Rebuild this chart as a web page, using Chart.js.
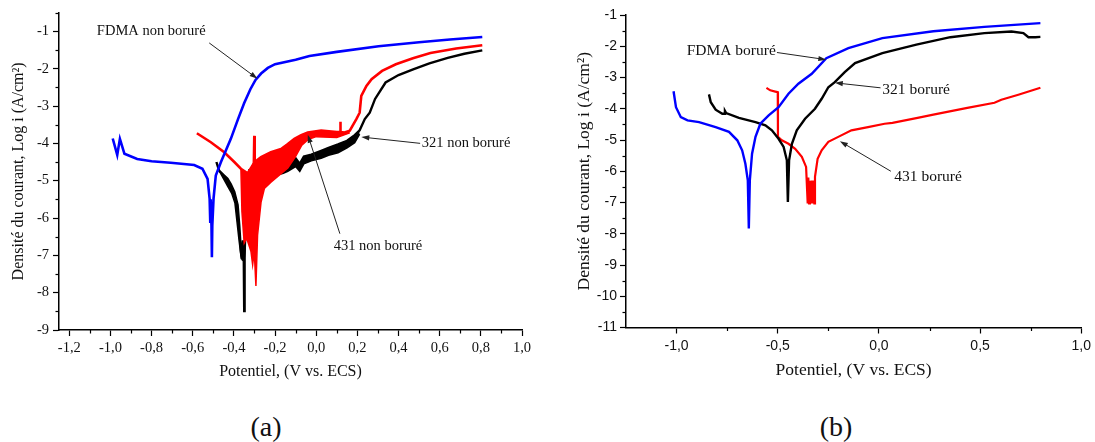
<!DOCTYPE html>
<html><head><meta charset="utf-8">
<script src="https://cdn.jsdelivr.net/npm/chart.js@4.4.0/dist/chart.umd.min.js"></script>
<style>
html,body{margin:0;padding:0;background:#fff;width:1095px;height:442px;overflow:hidden;}
#ca{position:absolute;left:0;top:0;}
#cb{position:absolute;left:548px;top:0;}
.cap{position:absolute;top:413px;font-family:"Liberation Serif","Times New Roman",serif;font-size:28px;color:#111;transform:translateX(-50%);line-height:1;}
</style></head><body>
<canvas id="ca" width="545" height="385"></canvas>
<canvas id="cb" width="547" height="385"></canvas>
<div class="cap" style="left:266px">(a)</div>
<div class="cap" style="left:836px">(b)</div>
<script>
// ---------- Panel (a) : non boruré ----------
const fdmaA_x = [-0.989,-0.967,-0.954,-0.932,-0.870,-0.800,-0.707,-0.593,-0.553,-0.528,-0.518,-0.515,-0.513,-0.509,-0.507,-0.505,-0.499,-0.488,-0.463,-0.415,-0.380,-0.350,-0.320,-0.295,-0.268,-0.235,-0.200,-0.100,-0.033,0.100,0.303,0.500,0.650,0.807];
const fdmaA_y = [-3.87,-4.31,-3.88,-4.28,-4.42,-4.48,-4.52,-4.58,-4.68,-4.95,-5.48,-6.10,-5.50,-6.20,-7.05,-6.20,-5.48,-4.86,-4.50,-3.88,-3.35,-2.92,-2.55,-2.30,-2.13,-1.98,-1.88,-1.76,-1.66,-1.55,-1.40,-1.29,-1.22,-1.15];

const s431A_x = [-0.580,-0.512,-0.447,-0.398,-0.366,-0.333,-0.310,-0.303,-0.301,-0.299,-0.268,-0.220,-0.171,-0.138,-0.106,-0.073,-0.041,0.024,0.100,0.116,0.117,0.119,0.138,0.163,0.195,0.211,0.219,0.244,0.269,0.320,0.387,0.470,0.555,0.680,0.807];
const s431A_y = [-3.73,-3.97,-4.24,-4.50,-4.68,-4.80,-4.60,-4.52,-3.80,-4.50,-4.37,-4.24,-4.15,-4.02,-3.88,-3.78,-3.71,-3.66,-3.70,-3.70,-3.42,-3.70,-3.71,-3.66,-3.35,-3.18,-2.73,-2.46,-2.28,-2.06,-1.88,-1.72,-1.58,-1.46,-1.37];
const s431A_low_x = [-0.366,-0.361,-0.350,-0.338,-0.317,-0.309,-0.301,-0.293,-0.285,-0.268,-0.252,-0.220,-0.171,-0.138,-0.100,-0.070,-0.040,0.000,0.100,0.163];
const s431A_low_y = [-4.68,-5.83,-6.67,-6.54,-6.90,-7.25,-6.90,-7.82,-6.45,-5.57,-5.21,-5.04,-4.81,-4.66,-4.35,-4.05,-3.90,-3.82,-3.84,-3.72];

const s321A_x = [-0.485,-0.472,-0.450,-0.431,-0.415,-0.398,-0.382,-0.374,-0.366,-0.362,-0.356,-0.352,-0.350,-0.348,-0.342,-0.335,-0.325,-0.280,-0.236,-0.190,-0.138,-0.100,-0.080,-0.060,-0.024,0.024,0.060,0.106,0.150,0.187,0.211,0.236,0.260,0.286,0.337,0.400,0.471,0.550,0.639,0.720,0.807];
const s321A_y = [-4.50,-4.73,-4.85,-4.95,-5.10,-5.30,-5.65,-6.19,-6.89,-7.10,-6.60,-7.15,-8.49,-7.00,-5.80,-5.00,-4.72,-4.75,-4.70,-4.60,-4.52,-4.40,-4.55,-4.35,-4.30,-4.20,-4.12,-4.03,-3.93,-3.78,-3.65,-3.35,-3.18,-2.81,-2.37,-2.17,-2.02,-1.86,-1.71,-1.60,-1.51];
const s321A_low_x = [-0.472,-0.450,-0.430,-0.410,-0.395,-0.385,-0.375,-0.366,-0.360,-0.352,-0.348,-0.340,-0.330,-0.310,-0.280,-0.250,-0.236,-0.210,-0.190,-0.160,-0.138,-0.100,-0.080,-0.060,-0.024,0.024,0.060,0.106,0.150,0.187,0.211];
const s321A_low_y = [-4.73,-4.95,-5.15,-5.35,-5.60,-6.10,-6.60,-7.00,-7.12,-7.15,-7.00,-6.20,-5.60,-5.35,-5.25,-5.15,-5.05,-4.95,-4.85,-4.80,-4.75,-4.62,-4.75,-4.55,-4.47,-4.40,-4.32,-4.25,-4.12,-3.98,-3.75];

const xTicksA = [-1.2,-1.0,-0.8,-0.6,-0.4,-0.2,0.0,0.2,0.4,0.6,0.8,1.0];
const xLabelsA = ['-1,2','-1,0','-0,8','-0,6','-0,4','-0,2','0,0','0,2','0,4','0,6','0,8','1,0'];
const xMinorA = [-1.1,-0.9,-0.7,-0.5,-0.3,-0.1,0.1,0.3,0.5,0.7,0.9];
const yTicksA = [-9,-8,-7,-6,-5,-4,-3,-2,-1];
const yLabelsA = ['-9','-8','-7','-6','-5','-4','-3','-2','-1'];
const yMinorA = [-8.5,-7.5,-6.5,-5.5,-4.5,-3.5,-2.5,-1.5,-0.5];

const notesA = [
  {text:'FDMA non boruré', x:-1.066, y:-1.0},
  {text:'321 non boruré', x:0.513, y:-4.0},
  {text:'431 non boruré', x:0.085, y:-6.75}
];
const arrowsA = [
  {x1:-0.52, y1:-1.31, x2:-0.285, y2:-2.27},
  {x1:0.505, y1:-4.0, x2:0.219, y2:-3.83},
  {x1:0.115, y1:-6.42, x2:-0.041, y2:-3.77}
];

// ---------- Panel (b) : boruré ----------
const fdmaB_x = [-1.015,-1.003,-0.979,-0.946,-0.889,-0.807,-0.741,-0.700,-0.676,-0.660,-0.648,-0.643,-0.638,-0.627,-0.610,-0.586,-0.545,-0.496,-0.447,-0.398,-0.332,-0.260,-0.151,0.017,0.269,0.521,0.798];
const fdmaB_y = [-3.44,-3.95,-4.27,-4.37,-4.43,-4.59,-4.74,-5.01,-5.33,-5.76,-6.29,-7.83,-6.29,-5.44,-4.90,-4.48,-4.21,-3.95,-3.52,-3.20,-2.88,-2.38,-2.06,-1.74,-1.52,-1.38,-1.26];

const s321B_x = [-0.840,-0.831,-0.807,-0.774,-0.765,-0.761,-0.755,-0.692,-0.610,-0.561,-0.529,-0.496,-0.471,-0.455,-0.450,-0.444,-0.430,-0.406,-0.365,-0.316,-0.283,-0.250,-0.218,-0.169,-0.118,0.017,0.185,0.353,0.521,0.655,0.714,0.739,0.773,0.798];
const s321B_y = [-3.54,-3.79,-4.03,-4.16,-4.16,-4.07,-4.14,-4.29,-4.43,-4.53,-4.69,-4.96,-5.22,-5.65,-6.98,-5.65,-5.12,-4.69,-4.32,-4.00,-3.68,-3.31,-3.15,-2.83,-2.54,-2.22,-1.95,-1.71,-1.58,-1.53,-1.58,-1.71,-1.71,-1.70];

const s431B_x = [-0.556,-0.537,-0.512,-0.500,-0.499,-0.480,-0.447,-0.414,-0.381,-0.360,-0.352,-0.349,-0.345,-0.341,-0.337,-0.333,-0.328,-0.324,-0.319,-0.316,-0.303,-0.283,-0.250,-0.201,-0.136,-0.054,0.028,0.067,0.191,0.269,0.437,0.571,0.605,0.689,0.798];
const s431B_y = [-3.33,-3.41,-3.45,-3.47,-4.90,-5.01,-5.12,-5.28,-5.54,-5.86,-7.03,-6.20,-7.03,-6.30,-7.03,-6.30,-7.03,-6.30,-7.03,-6.18,-5.60,-5.33,-5.06,-4.90,-4.69,-4.59,-4.48,-4.45,-4.29,-4.19,-3.97,-3.81,-3.71,-3.55,-3.33];

const xTicksB = [-1.0,-0.5,0.0,0.5,1.0];
const xLabelsB = ['-1,0','-0,5','0,0','0,5','1,0'];
const xMinorB = [-0.75,-0.25,0.25,0.75];
const yTicksB = [-11,-10,-9,-8,-7,-6,-5,-4,-3,-2,-1];
const yLabelsB = ['-11','-10','-9','-8','-7','-6','-5','-4','-3','-2','-1'];
const yMinorB = [-10.5,-9.5,-8.5,-7.5,-6.5,-5.5,-4.5,-3.5,-2.5,-1.5];

const notesB = [
  {text:'FDMA boruré', x:-0.95, y:-2.16},
  {text:'321 boruré', x:0.017, y:-3.39},
  {text:'431 boruré', x:0.076, y:-6.19}
];
const arrowsB = [
  {x1:-0.504, y1:-2.2, x2:-0.26, y2:-2.43},
  {x1:0.008, y1:-3.33, x2:-0.218, y2:-3.17},
  {x1:0.059, y1:-6.0, x2:-0.193, y2:-5.04}
];

// ---------- helpers ----------
const SERIF = '"Liberation Serif","Times New Roman",serif';
const SANS = '"Liberation Sans",Arial,sans-serif';
const pts = (xs, ys) => xs.map((x, i) => ({x, y: ys[i]}));
const line = (label, xs, ys, color, w, fill) => ({
  label, data: pts(xs, ys), borderColor: color, backgroundColor: color,
  borderWidth: w, pointRadius: 0, tension: 0, fill: fill || false
});

const deco = {
  id: 'deco',
  afterDraw(chart, args, o) {
    const ctx = chart.ctx, xs = chart.scales.x, ys = chart.scales.y, ca = chart.chartArea;
    ctx.save();
    ctx.strokeStyle = '#000'; ctx.lineWidth = 1.2;
    o.minorX.forEach(v => { const p = Math.round(xs.getPixelForValue(v)) + 0.5;
      ctx.beginPath(); ctx.moveTo(p, ca.bottom); ctx.lineTo(p, ca.bottom + o.minorLen); ctx.stroke(); });
    o.minorY.forEach(v => { const p = Math.round(ys.getPixelForValue(v)) + 0.5;
      ctx.beginPath(); ctx.moveTo(ca.left, p); ctx.lineTo(ca.left - o.minorLen, p); ctx.stroke(); });
    ctx.lineWidth = 1; ctx.fillStyle = '#222'; ctx.strokeStyle = '#222';
    o.arrows.forEach(a => {
      const x1 = xs.getPixelForValue(a.x1), y1 = ys.getPixelForValue(a.y1);
      const x2 = xs.getPixelForValue(a.x2), y2 = ys.getPixelForValue(a.y2);
      const ang = Math.atan2(y2 - y1, x2 - x1), L = 8, H = 2.6;
      ctx.beginPath(); ctx.moveTo(x1, y1);
      ctx.lineTo(x2 - Math.cos(ang) * L * 0.8, y2 - Math.sin(ang) * L * 0.8); ctx.stroke();
      ctx.beginPath(); ctx.moveTo(x2, y2);
      ctx.lineTo(x2 - Math.cos(ang) * L - Math.sin(ang) * H, y2 - Math.sin(ang) * L + Math.cos(ang) * H);
      ctx.lineTo(x2 - Math.cos(ang) * L + Math.sin(ang) * H, y2 - Math.sin(ang) * L - Math.cos(ang) * H);
      ctx.closePath(); ctx.fill();
    });
    ctx.font = o.noteFont; ctx.textAlign = 'left'; ctx.textBaseline = 'middle'; ctx.fillStyle = '#111';
    o.notes.forEach(n => ctx.fillText(n.text, xs.getPixelForValue(n.x), ys.getPixelForValue(n.y)));
    ctx.restore();
  }
};

function makeScales(cfg) {
  return {
    x: {
      type: 'linear', min: -1.25, max: 1.0,
      afterBuildTicks: s => { s.ticks = cfg.xTicks.map(v => ({value: v})); },
      afterFit: s => { s.height = cfg.xH; },
      ticks: {callback: (v, i) => cfg.xLabels[i], font: {family: cfg.tickFont, size: cfg.tickSize}, color: '#111',
        padding: cfg.xPad, maxRotation: 0, autoSkip: false},
      grid: {display: true, drawOnChartArea: false, drawTicks: true, tickLength: 6, tickColor: '#000', tickWidth: 1.2},
      border: {display: true, color: '#000', width: 1.5},
      title: {display: true, text: 'Potentiel, (V vs. ECS)', font: {family: SERIF, size: cfg.titleSize}, color: '#111',
        padding: {top: 0, bottom: cfg.xTitlePad}}
    },
    y: {
      type: 'linear', min: cfg.yMin, max: cfg.yMax,
      afterBuildTicks: s => { s.ticks = cfg.yTicks.map(v => ({value: v})); },
      afterFit: s => { s.width = cfg.yW; },
      ticks: {callback: (v, i) => cfg.yLabels[i], font: {family: cfg.tickFont, size: cfg.tickSize}, color: '#111',
        padding: cfg.yPad, autoSkip: false},
      grid: {display: true, drawOnChartArea: false, drawTicks: true, tickLength: 6, tickColor: '#000', tickWidth: 1.2},
      border: {display: true, color: '#000', width: 1.5},
      title: {display: true, text: 'Densité du courant, Log i (A/cm²)', font: {family: SERIF, size: cfg.titleSize}, color: '#111',
        padding: {top: cfg.yTitlePad, bottom: 0}}
    }
  };
}

const common = (pad, scales, deco) => ({
  responsive: false, animation: false, parsing: true,
  layout: {padding: pad},
  plugins: {legend: {display: false}, tooltip: {enabled: false}, deco},
  scales
});

new Chart(document.getElementById('ca'), {
  type: 'line',
  data: {datasets: [
    line('FDMA non boruré', fdmaA_x, fdmaA_y, '#0000ff', 2.6),
    line('431 non boruré', s431A_x, s431A_y, '#ff0000', 2.6),
    line('431 non boruré (bruit)', s431A_low_x, s431A_low_y, '#ff0000', 1.5, '-1'),
    line('321 non boruré', s321A_x, s321A_y, '#000000', 2.4),
    line('321 non boruré (bruit)', s321A_low_x, s321A_low_y, '#000000', 1.5, '-1')
  ]},
  options: common({left: 0, top: 10, right: 23, bottom: 0},
    makeScales({xTicks: xTicksA, xLabels: xLabelsA, yTicks: yTicksA, yLabels: yLabelsA, yMin: -9, yMax: -0.5,
      tickFont: SERIF, tickSize: 14.5, titleSize: 16, xH: 55, yW: 59, xPad: 3, yPad: 4, xTitlePad: 3.4, yTitlePad: 9}),
    {minorX: xMinorA, minorY: yMinorA, minorLen: 3.5, arrows: arrowsA, notes: notesA, noteFont: '14.5px ' + SERIF}),
  plugins: [deco]
});

new Chart(document.getElementById('cb'), {
  type: 'line',
  data: {datasets: [
    line('FDMA boruré', fdmaB_x, fdmaB_y, '#0000ff', 2.4),
    line('321 boruré', s321B_x, s321B_y, '#000000', 2.4),
    line('431 boruré', s431B_x, s431B_y, '#ff0000', 2.2)
  ]},
  options: common({left: 0, top: 15, right: 12, bottom: 0},
    makeScales({xTicks: xTicksB, xLabels: xLabelsB, yTicks: yTicksB, yLabels: yLabelsB, yMin: -11, yMax: -1,
      tickFont: SANS, tickSize: 14, titleSize: 17.5, xH: 57.5, yW: 78, xPad: 4, yPad: 3, xTitlePad: 4.5, yTitlePad: 26}),
    {minorX: xMinorB, minorY: yMinorB, minorLen: 3.5, arrows: arrowsB, notes: notesB, noteFont: '15.5px ' + SERIF}),
  plugins: [deco]
});
</script>
</body></html>
